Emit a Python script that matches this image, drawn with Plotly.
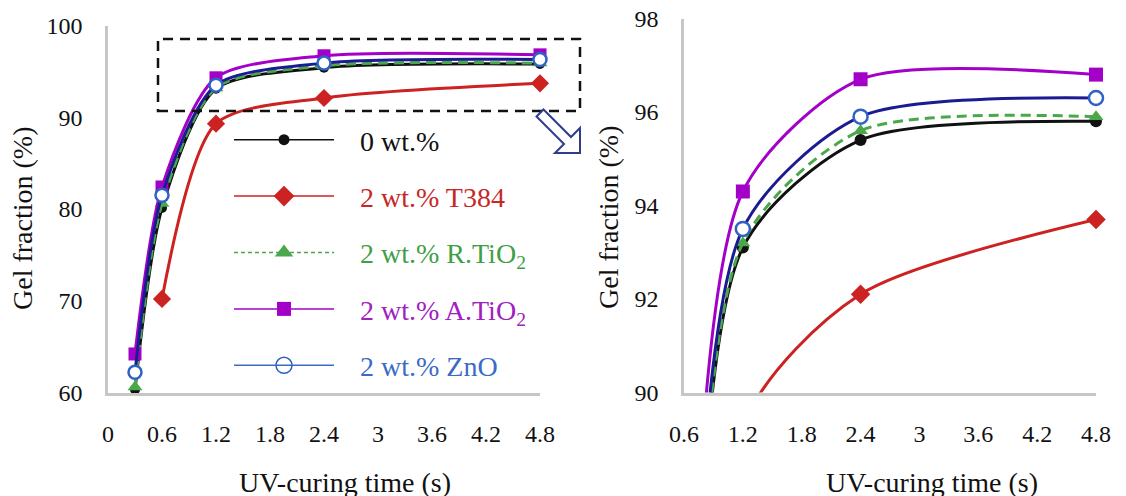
import plotly.graph_objects as go

# ---------------- data ----------------
cure_time = [0.3, 0.6, 1.2, 2.4, 4.8]
gel_0wt = [60.3, 80.1, 93.1, 95.4, 95.8]
gel_T384 = [None, 70.2, 89.3, 92.1, 93.7]
gel_RTiO2 = [60.6, 80.6, 93.2, 95.6, 95.9]
gel_ATiO2 = [64.2, 82.4, 94.3, 96.7, 96.8]
gel_ZnO = [62.2, 81.5, 93.5, 95.9, 96.3]

x_ticks_left = [0, 0.6, 1.2, 1.8, 2.4, 3.0, 3.6, 4.2, 4.8]
x_ticktext_left = ["0", "0.6", "1.2", "1.8", "2.4", "3", "3.6", "4.2", "4.8"]
x_ticks_right = [0.6, 1.2, 1.8, 2.4, 3.0, 3.6, 4.2, 4.8]
x_ticktext_right = ["0.6", "1.2", "1.8", "2.4", "3", "3.6", "4.2", "4.8"]
y_ticks_left = [60, 70, 80, 90, 100]
y_ticks_right = [90, 92, 94, 96, 98]

series_names = ["0 wt.%", "2 wt.% T384", "2 wt.% R.TiO<sub>2</sub>",
                "2 wt.% A.TiO<sub>2</sub>", "2 wt.% ZnO"]
x_title = "UV-curing time (s)"
y_title = "Gel fraction (%)"

# ---------------- style ----------------
OFF = 8                      # page body margin
W, H = 1126 - OFF, 496 - OFF
FONT = "Liberation Serif"
AXIS_GRAY = "#c6c6c6"

series = [
    dict(y=gel_0wt, line="#111111", dash="solid", symbol="circle", mcolor="#111111",
         mline="#111111", size_l=10, size_r=12, leg_line="#111111", leg_text="#111111", leg_size=11),
    dict(y=gel_T384, line="#cc2222", dash="solid", symbol="diamond", mcolor="#cc2222",
         mline="#cc2222", size_l=14, size_r=15, leg_line="#cc2222", leg_text="#c62828", leg_size=16),
    dict(y=gel_RTiO2, line="#4aa84a", dash="dash", symbol="triangle-up", mcolor="#4aa84a",
         mline="#4aa84a", size_l=13, size_r=13, leg_line="#4aa84a", leg_text="#3f9f47", leg_size=16),
    dict(y=gel_ATiO2, line="#a300c8", dash="solid", symbol="square", mcolor="#a300c8",
         mline="#a300c8", size_l=13, size_r=14, leg_line="#a300c8", leg_text="#a020c0", leg_size=14),
    dict(y=gel_ZnO, line="#1c1c92", dash="solid", symbol="circle", mcolor="#ffffff",
         mline="#2f62c4", size_l=13, size_r=14, leg_line="#3a6cc6", leg_text="#3a6cc6", leg_size=16),
]

fig = go.Figure()

for s in series:
    for xa, ya, size in (("x", "y", s["size_l"]), ("x2", "y2", s["size_r"])):
        fig.add_trace(go.Scatter(
            x=cure_time, y=s["y"], xaxis=xa, yaxis=ya, mode="lines+markers",
            line=dict(color=s["line"], width=3, shape="spline", smoothing=0.75,
                      dash="10px,6px" if s["dash"] == "dash" else "solid"),
            marker=dict(symbol=s["symbol"], size=size, color=s["mcolor"],
                        line=dict(color=s["mline"], width=2.5 if s["mcolor"] == "#ffffff" else 0)),
            cliponaxis=False, showlegend=False, hoverinfo="skip"))

# legend entries
for i, (s, name) in enumerate(zip(series, series_names)):
    fig.add_trace(go.Scatter(
        x=[None], y=[None], xaxis="x", yaxis="y", mode="lines+markers",
        name=f'<span style="color:{s["leg_text"]}">&nbsp;&nbsp;&nbsp;{name}</span>',
        legendgroup=f"g{i}",
        line=dict(color=s["leg_line"], width=1.5, dash="4px,3px" if s["dash"] == "dash" else "solid"),
        marker=dict(symbol=s["symbol"], size=s["leg_size"],
                    color=s["mcolor"] if s["mcolor"] != "#ffffff" else "rgba(255,255,255,0)",
                    line=dict(color=s["mline"] if s["mcolor"] == "#ffffff" else s["mcolor"],
                              width=1.5 if s["mcolor"] == "#ffffff" else 0)),
        showlegend=True))

axis_common = dict(showline=True, linecolor=AXIS_GRAY, linewidth=2.5, showgrid=False,
                   zeroline=False, ticks="outside", tickcolor="rgba(0,0,0,0)", ticklen=18,
                   automargin=False, ticklabeloverflow="allow",
                   tickfont=dict(family=FONT, size=24, color="#111111"))

def px_x(p):
    return (p - OFF) / W

def px_y(p):
    return (H - (p - OFF)) / H

fig.update_layout(
    template="none",
    width=W, height=H, margin=dict(l=0, r=0, t=0, b=0, autoexpand=False),
    paper_bgcolor="white", plot_bgcolor="white",
    font=dict(family=FONT, size=24, color="#111111"),
    xaxis=dict(domain=[px_x(108), px_x(540)], range=[0, 4.8], anchor="y",
               tickvals=x_ticks_left, ticktext=x_ticktext_left, **axis_common),
    yaxis=dict(domain=[px_y(392.5), px_y(25.5)], range=[60, 100], anchor="x",
               tickvals=y_ticks_left, **axis_common),
    xaxis2=dict(domain=[px_x(684), px_x(1096)], range=[0.6, 4.8], anchor="y2",
                tickvals=x_ticks_right, ticktext=x_ticktext_right, **axis_common),
    yaxis2=dict(domain=[px_y(392.5), px_y(18.5)], range=[90, 98], anchor="x2",
                tickvals=y_ticks_right, **axis_common),
    legend=dict(x=px_x(229), y=px_y(115), xanchor="left", yanchor="top",
                bgcolor="rgba(0,0,0,0)", font=dict(family=FONT, size=28),
                itemwidth=100, tracegroupgap=17, traceorder="grouped"),
    showlegend=True,
)

# axis titles as annotations
for cx, cy, text, ang in ((23, 219, y_title, -90), (608, 218, y_title, -90),
                          (345, 482, x_title, 0), (932, 482, x_title, 0)):
    fig.add_annotation(xref="paper", yref="paper", x=px_x(cx), y=px_y(cy), text=text,
                       textangle=ang, showarrow=False, xanchor="center", yanchor="middle",
                       font=dict(family=FONT, size=28, color="#111111"))

# dashed zoom box
fig.add_shape(type="rect", xref="paper", yref="paper",
              x0=px_x(158), x1=px_x(580), y0=px_y(111), y1=px_y(39),
              line=dict(color="#111111", width=2.5, dash="10px,7px"), layer="above")

# hollow arrow
arrow_pts = [(543.5, 109.5), (571, 137), (580, 128), (580, 153), (555, 153), (564, 144), (536.5, 116.5)]
path = "M " + " L ".join(f"{px_x(a):.5f},{px_y(b):.5f}" for a, b in arrow_pts) + " Z"
fig.add_shape(type="path", xref="paper", yref="paper", path=path,
              line=dict(color="#2d3d8c", width=2), fillcolor="white", layer="above")

fig.write_html("out.html")
